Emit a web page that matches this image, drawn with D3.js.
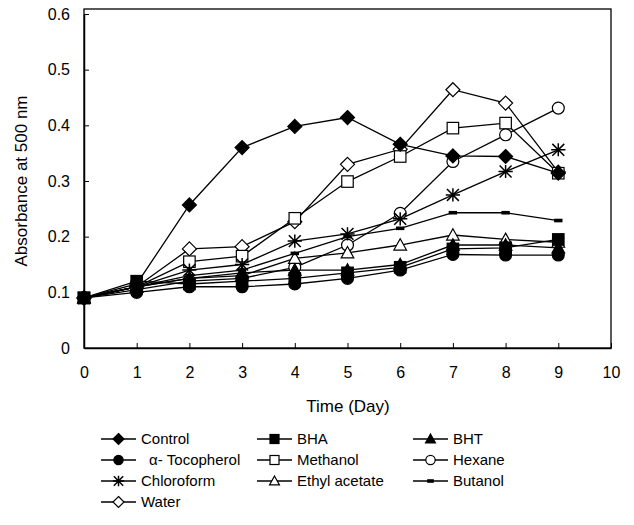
<!DOCTYPE html>
<html>
<head>
<meta charset="utf-8">
<script src="https://cdn.jsdelivr.net/npm/d3@7"></script>
<style>
  body { margin: 0; background: #fff; }
  svg text { font-family: "Liberation Sans", Arial, sans-serif; fill: #000; }
</style>
</head>
<body>
<svg id="chart" width="634" height="525"></svg>
<script>
// ---- data ----
const days = [0, 1, 2, 3, 4, 5, 6, 7, 8, 9];
const xTicks = [0, 1, 2, 3, 4, 5, 6, 7, 8, 9, 10];
const yTicks = [0, 0.1, 0.2, 0.3, 0.4, 0.5, 0.6];

const control      = [0.09, 0.115, 0.257, 0.360, 0.398, 0.414, 0.366, 0.345, 0.344, 0.314];
const bha          = [0.09, 0.120, 0.115, 0.120, 0.125, 0.135, 0.145, 0.178, 0.180, 0.195];
const bht          = [0.09, 0.110, 0.125, 0.135, 0.140, 0.140, 0.150, 0.185, 0.185, 0.180];
const tocopherol   = [0.09, 0.100, 0.110, 0.110, 0.115, 0.125, 0.140, 0.168, 0.167, 0.167];
const methanol     = [0.09, 0.110, 0.155, 0.165, 0.233, 0.299, 0.344, 0.395, 0.404, 0.314];
const hexane       = [0.09, 0.105, 0.120, 0.125, 0.145, 0.185, 0.242, 0.335, 0.383, 0.431];
const chloroform   = [0.09, 0.110, 0.140, 0.150, 0.192, 0.205, 0.232, 0.275, 0.317, 0.356];
const ethylAcetate = [0.09, 0.110, 0.125, 0.130, 0.161, 0.171, 0.185, 0.203, 0.195, 0.190];
const butanol      = [0.09, 0.110, 0.130, 0.140, 0.170, 0.200, 0.215, 0.243, 0.243, 0.229];
const water        = [0.09, 0.110, 0.178, 0.182, 0.227, 0.330, 0.357, 0.464, 0.440, 0.316];

const seriesNames = ["Control", "BHA", "BHT", "α- Tocopherol", "Methanol", "Hexane",
                     "Chloroform", "Ethyl acetate", "Butanol", "Water"];
const seriesValues = [control, bha, bht, tocopherol, methanol, hexane,
                      chloroform, ethylAcetate, butanol, water];
const seriesMarkers = ["diamondFilled", "squareFilled", "triangleFilled", "circleFilled",
                       "squareOpen", "circleOpen", "asterisk", "triangleOpen", "dash", "diamondOpen"];

// ---- layout ----
const svg = d3.select("#chart");
const x = d3.scaleLinear().domain([0, 10]).range([84, 611]);
const y = d3.scaleLinear().domain([0, 0.6]).range([348, 14]);

function drawMarker(g, type, cx, cy, s) {
  const h = s / 2;
  const sw = 1.2;
  switch (type) {
    case "diamondFilled":
    case "diamondOpen":
      g.append("path")
        .attr("d", `M${cx},${cy - h}L${cx + h},${cy}L${cx},${cy + h}L${cx - h},${cy}Z`)
        .attr("fill", type === "diamondFilled" ? "#000" : "#fff")
        .attr("stroke", "#000").attr("stroke-width", sw);
      break;
    case "squareFilled":
    case "squareOpen": {
      const q = h * 0.82;
      g.append("rect").attr("x", cx - q).attr("y", cy - q).attr("width", 2 * q).attr("height", 2 * q)
        .attr("fill", type === "squareFilled" ? "#000" : "#fff")
        .attr("stroke", "#000").attr("stroke-width", sw);
      break;
    }
    case "triangleFilled":
    case "triangleOpen": {
      const t = h * 0.9;
      g.append("path")
        .attr("d", `M${cx},${cy - t}L${cx + t},${cy + t * 0.8}L${cx - t},${cy + t * 0.8}Z`)
        .attr("fill", type === "triangleFilled" ? "#000" : "#fff")
        .attr("stroke", "#000").attr("stroke-width", sw);
      break;
    }
    case "circleFilled":
    case "circleOpen":
      g.append("circle").attr("cx", cx).attr("cy", cy).attr("r", h * 0.85)
        .attr("fill", type === "circleFilled" ? "#000" : "#fff")
        .attr("stroke", "#000").attr("stroke-width", sw);
      break;
    case "asterisk": {
      const a = h * 0.85;
      g.append("path")
        .attr("d", `M${cx - a},${cy - a}L${cx + a},${cy + a}M${cx - a},${cy + a}L${cx + a},${cy - a}M${cx},${cy - a * 1.1}L${cx},${cy + a * 1.1}M${cx - a * 1.2},${cy}L${cx + a * 1.2},${cy}`)
        .attr("fill", "none").attr("stroke", "#000").attr("stroke-width", 1.5);
      break;
    }
    case "dash":
      g.append("rect").attr("x", cx - h * 0.6).attr("y", cy - 1.8).attr("width", h * 1.2).attr("height", 3.6)
        .attr("fill", "#000");
      break;
  }
}

// frame
svg.append("rect").attr("x", 84).attr("y", 9).attr("width", 611 - 84).attr("height", 348 - 9)
  .attr("fill", "none").attr("stroke", "#000").attr("stroke-width", 1.3);

// axes
const yAxis = d3.axisLeft(y).tickValues(yTicks)
  .tickFormat(d => d === 0 ? "0" : d3.format(".1f")(d))
  .tickSizeInner(-5).tickSizeOuter(0).tickPadding(14);
const gy = svg.append("g").attr("transform", "translate(84,0)").call(yAxis);
gy.select(".domain").attr("stroke-width", 1.5);
gy.selectAll("text").attr("font-size", 16).attr("font-family", "Liberation Sans, Arial, sans-serif");

const xAxis = d3.axisBottom(x).tickValues(xTicks).tickFormat(d3.format("d"))
  .tickSizeInner(-5).tickSizeOuter(0).tickPadding(19);
const gx = svg.append("g").attr("transform", "translate(0,348)").call(xAxis);
gx.select(".domain").attr("stroke-width", 1.5);
gx.selectAll("text").attr("font-size", 16).attr("font-family", "Liberation Sans, Arial, sans-serif");

// axis titles
svg.append("text").attr("transform", "translate(27,181) rotate(-90)")
  .attr("text-anchor", "middle").attr("font-size", 17).text("Absorbance at 500 nm");
svg.append("text").attr("x", 348).attr("y", 412)
  .attr("text-anchor", "middle").attr("font-size", 17).text("Time (Day)");

// lines
const line = d3.line().x((d, i) => x(days[i])).y(d => y(d));
const linesG = svg.append("g");
seriesValues.forEach(vals => {
  linesG.append("path").attr("d", line(vals)).attr("fill", "none")
    .attr("stroke", "#000").attr("stroke-width", 1.3);
});

// markers: open first, filled on top
const drawOrder = [9, 4, 5, 6, 7, 8, 0, 2, 1, 3];
const marksG = svg.append("g");
drawOrder.forEach(si => {
  const g = marksG.append("g");
  seriesValues[si].forEach((v, i) => drawMarker(g, seriesMarkers[si], x(days[i]), y(v), 14));
});

// legend
const legCols = [101, 257, 413];
const legTextX = [141, 297, 453];
const legRows = [439, 460, 481, 502];
const legendG = svg.append("g");
seriesNames.forEach((name, i) => {
  const c = i % 3, r = Math.floor(i / 3);
  const lx = legCols[c], ly = legRows[r];
  legendG.append("line").attr("x1", lx).attr("x2", lx + 35).attr("y1", ly).attr("y2", ly)
    .attr("stroke", "#000").attr("stroke-width", 1.3);
  drawMarker(legendG, seriesMarkers[i], lx + 17.5, ly, 11);
  legendG.append("text").attr("x", name.startsWith("α") ? legTextX[c] + 8 : legTextX[c])
    .attr("y", ly).attr("dy", "0.35em").attr("font-size", 15).text(name);
});
</script>
</body>
</html>
